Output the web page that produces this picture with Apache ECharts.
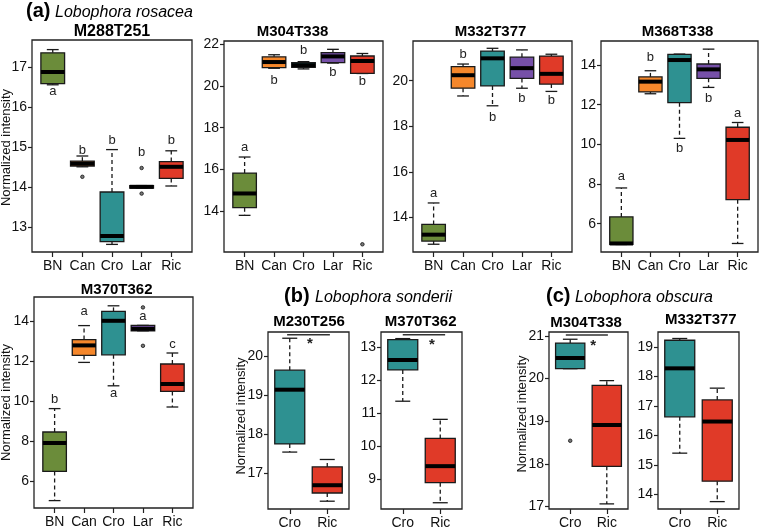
<!DOCTYPE html>
<html><head><meta charset="utf-8">
<script src="https://cdn.jsdelivr.net/npm/echarts@6/dist/echarts.min.js"></script>
<style>html,body{margin:0;padding:0;background:#fff}#c{width:760px;height:530px}</style>
</head><body><div id="c"></div>
<script>
// ---------- data ----------
const catsFive = ['BN', 'Can', 'Cro', 'Lar', 'Ric'];
const catsTwo = ['Cro', 'Ric'];
const groupColor = { BN: '#6b8c3a', Can: '#f5872b', Cro: '#2e9191', Lar: '#7650a8', Ric: '#e03a28' };

// box stats per group: [lower whisker, Q1, median, Q3, upper whisker]
const m288Stats = [[16.55, 16.58, 16.87, 17.35, 17.43], [14.50, 14.52, 14.58, 14.64, 14.77], [12.56, 12.63, 12.77, 13.87, 14.93], [13.97, 13.97, 14.00, 14.03, 14.03], [14.02, 14.21, 14.50, 14.63, 14.90]];
const m288Outliers = [[2, 14.25], [4, 14.47], [4, 13.83]];
const m288Letters = ['a', 'b', 'b', 'b', 'b'];
const m288LetterY = [16.38, 14.90, 15.17, 14.85, 15.15];
const m288Ticks = [13, 14, 15, 16, 17];

const m304Stats = [[13.79, 14.16, 14.84, 15.82, 16.59], [20.85, 20.88, 21.15, 21.40, 21.50], [20.82, 20.90, 21.00, 21.12, 21.17], [21.10, 21.12, 21.42, 21.60, 21.76], [20.60, 20.61, 21.20, 21.44, 21.56]];
const m304Outliers = [[5, 12.40]];
const m304Letters = ['a', 'b', 'b', 'b', 'b'];
const m304LetterY = [17.03, 20.28, 21.69, 20.63, 20.24];
const m304Ticks = [14, 16, 18, 20, 22];

const m332Stats = [[12.83, 12.97, 13.25, 13.70, 14.64], [19.33, 19.67, 20.24, 20.62, 20.73], [18.90, 19.77, 20.98, 21.30, 21.42], [19.67, 20.10, 20.55, 21.03, 21.35], [19.53, 19.85, 20.30, 21.08, 21.16]];
const m332Letters = ['a', 'b', 'b', 'b', 'b'];
const m332LetterY = [15.05, 21.13, 18.39, 19.23, 19.15];
const m332Ticks = [14, 16, 18, 20];

const m368Stats = [[4.95, 4.95, 5.00, 6.34, 7.80], [12.55, 12.64, 13.16, 13.40, 13.71], [10.30, 12.10, 14.25, 14.54, 14.55], [12.87, 13.33, 13.78, 14.05, 14.80], [5.00, 7.21, 10.22, 10.86, 11.10]];
const m368Letters = ['a', 'b', 'b', 'b', 'a'];
const m368LetterY = [8.36, 14.39, 9.79, 12.32, 11.56];
const m368Ticks = [6, 8, 10, 12, 14];

const m370Stats = [[5.04, 6.50, 7.92, 8.47, 9.64], [11.95, 12.30, 12.80, 13.09, 13.79], [10.78, 12.33, 14.03, 14.50, 14.78], [13.53, 13.53, 13.63, 13.80, 13.80], [9.72, 10.50, 10.87, 11.87, 12.42]];
const m370Outliers = [[4, 14.70], [4, 12.78]];
const m370Letters = ['b', 'a', 'a', 'a', 'c'];
const m370LetterY = [10.09, 14.50, 10.42, 14.25, 12.87];
const m370Ticks = [6, 8, 10, 12, 14];

const sonM230Stats = [[17.55, 17.76, 19.15, 19.65, 20.47], [16.29, 16.50, 16.70, 17.17, 17.36]];
const sonM230Sig = [0.93, 2.07, 20.56, 1.54, 20.40]; // bar x1, x2, y ; star x, y
const sonM230Ticks = [17, 18, 19, 20];

const sonM370Stats = [[11.37, 12.32, 12.62, 13.24, 13.27], [8.29, 8.90, 9.40, 10.24, 10.82]];
const sonM370Sig = [1.00, 2.13, 13.39, 1.78, 13.17];
const sonM370Ticks = [9, 10, 11, 12, 13];

const obsM304Stats = [[20.23, 20.23, 20.48, 20.83, 20.92], [17.06, 17.94, 18.91, 19.84, 19.95]];
const obsM304Outliers = [[1, 18.54]];
const obsM304Sig = [0.88, 2.03, 21.02, 1.63, 20.83];
const obsM304Ticks = [17, 18, 19, 20, 21];

const obsM332Stats = [[15.40, 16.63, 18.27, 19.22, 19.28], [13.76, 14.45, 16.47, 17.20, 17.60]];
const obsM332Ticks = [14, 15, 16, 17, 18, 19];

// ---------- layout ----------
const FONT = "'Liberation Sans', Arial, sans-serif";
const panels = [
  { title: 'M288T251', cats: catsFive, stats: m288Stats, out: m288Outliers, letters: m288Letters, letterY: m288LetterY, ticks: m288Ticks, yMin: 12.37, yMax: 17.67, box: [32, 40, 160, 212], t: [112, 31.7, 16] },
  { title: 'M304T338', cats: catsFive, stats: m304Stats, out: m304Outliers, letters: m304Letters, letterY: m304LetterY, ticks: m304Ticks, yMin: 12.03, yMax: 22.16, box: [224, 41, 159, 211], t: [292.5, 31.7, 15] },
  { title: 'M332T377', cats: catsFive, stats: m332Stats, letters: m332Letters, letterY: m332LetterY, ticks: m332Ticks, yMin: 12.49, yMax: 21.74, box: [413, 41, 159, 211], t: [490.5, 31.7, 15] },
  { title: 'M368T338', cats: catsFive, stats: m368Stats, letters: m368Letters, letterY: m368LetterY, ticks: m368Ticks, yMin: 4.57, yMax: 15.21, box: [601, 41, 157, 211], t: [677.5, 31.7, 15] },
  { title: 'M370T362', cats: catsFive, stats: m370Stats, out: m370Outliers, letters: m370Letters, letterY: m370LetterY, ticks: m370Ticks, yMin: 4.67, yMax: 15.22, box: [34, 297, 159, 211], t: [116.7, 290, 15] },
  { title: 'M230T256', cats: catsTwo, stats: sonM230Stats, sig: sonM230Sig, ticks: sonM230Ticks, yMin: 16.09, yMax: 20.63, box: [268, 332, 81, 179], t: [309, 321.7, 15] },
  { title: 'M370T362', cats: catsTwo, stats: sonM370Stats, sig: sonM370Sig, ticks: sonM370Ticks, yMin: 8.10, yMax: 13.47, box: [381, 332, 81, 179], t: [420.7, 321.7, 15] },
  { title: 'M304T338', cats: catsTwo, stats: obsM304Stats, out: obsM304Outliers, sig: obsM304Sig, ticks: obsM304Ticks, yMin: 16.94, yMax: 21.09, box: [549, 332, 79, 179], t: [586, 323.3, 15] },
  { title: 'M332T377', cats: catsTwo, stats: obsM332Stats, ticks: obsM332Ticks, yMin: 13.51, yMax: 19.50, box: [658, 332, 81, 180], t: [700.8, 320, 15] }
];

function makeBoxRenderer(cats) {
  return function (params, api) {
    const x = api.value(0);
    const pLo = api.coord([x, api.value(1)]);
    const pQ1 = api.coord([x, api.value(2)]);
    const pMd = api.coord([x, api.value(3)]);
    const pQ3 = api.coord([x, api.value(4)]);
    const pHi = api.coord([x, api.value(5)]);
    const bw = api.size([0.8, 0])[0];
    const cw = api.size([0.4, 0])[0];
    const cx = pMd[0];
    const stroke = '#1a1a1a';
    const ch = [];
    ch.push({ type: 'line', shape: { x1: cx, y1: pQ3[1], x2: cx, y2: pHi[1] }, style: { stroke, lineWidth: 1.3, lineDash: [4, 3] } });
    ch.push({ type: 'line', shape: { x1: cx, y1: pQ1[1], x2: cx, y2: pLo[1] }, style: { stroke, lineWidth: 1.3, lineDash: [4, 3] } });
    ch.push({ type: 'line', shape: { x1: cx - cw / 2, y1: pHi[1], x2: cx + cw / 2, y2: pHi[1] }, style: { stroke, lineWidth: 1.3 } });
    ch.push({ type: 'line', shape: { x1: cx - cw / 2, y1: pLo[1], x2: cx + cw / 2, y2: pLo[1] }, style: { stroke, lineWidth: 1.3 } });
    ch.push({ type: 'rect', shape: { x: cx - bw / 2, y: pQ3[1], width: bw, height: pQ1[1] - pQ3[1] }, style: { fill: groupColor[cats[Math.round(x) - 1]], stroke, lineWidth: 1.3 } });
    ch.push({ type: 'line', shape: { x1: cx - bw / 2, y1: pMd[1], x2: cx + bw / 2, y2: pMd[1] }, style: { stroke: '#000', lineWidth: 4 } });
    return { type: 'group', children: ch };
  };
}

function makeLetterRenderer(letters) {
  return function (params, api) {
    const p = api.coord([api.value(0), api.value(1)]);
    return { type: 'text', x: p[0], y: p[1], style: { text: letters[params.dataIndex], fill: '#222', font: '13px ' + FONT, textAlign: 'center', textVerticalAlign: 'middle', align: 'center', verticalAlign: 'middle' } };
  };
}

function sigRenderer(params, api) {
  const a = api.coord([api.value(0), api.value(2)]);
  const b = api.coord([api.value(1), api.value(2)]);
  const s = api.coord([api.value(3), api.value(4)]);
  return { type: 'group', children: [
    { type: 'line', shape: { x1: a[0], y1: a[1], x2: b[0], y2: b[1] }, style: { stroke: '#333', lineWidth: 1.5 } },
    { type: 'text', x: s[0], y: s[1] + 3, style: { text: '*', fill: '#222', font: 'bold 15px ' + FONT, textAlign: 'center', textVerticalAlign: 'middle', align: 'center', verticalAlign: 'middle' } }
  ] };
}

const grid = [], xAxis = [], yAxis = [], series = [], graphic = [];
panels.forEach((p, i) => {
  const n = p.cats.length;
  const xs = p.cats.map((c, k) => k + 1);
  const ext = 0.04 * n;
  grid.push({ left: p.box[0], top: p.box[1], width: p.box[2], height: p.box[3], show: true, borderColor: '#222', borderWidth: 1.3, backgroundColor: 'transparent', containLabel: false });
  xAxis.push({ gridIndex: i, type: 'value', min: 0.5 - ext, max: n + 0.5 + ext,
    axisLine: { show: false, onZero: false }, splitLine: { show: false },
    axisTick: { show: true, length: 5, customValues: xs, lineStyle: { color: '#222', width: 1.2 } },
    axisLabel: { customValues: xs, formatter: v => p.cats[Math.round(v) - 1], fontSize: 14, color: '#111', margin: 7, fontFamily: FONT } });
  yAxis.push({ gridIndex: i, type: 'value', min: p.yMin, max: p.yMax,
    axisLine: { show: false, onZero: false }, splitLine: { show: false },
    axisTick: { show: true, length: 4, customValues: p.ticks, lineStyle: { color: '#222', width: 1.2 } },
    axisLabel: { customValues: p.ticks, fontSize: 14, color: '#111', margin: 5, fontFamily: FONT } });
  series.push({ type: 'custom', xAxisIndex: i, yAxisIndex: i, renderItem: makeBoxRenderer(p.cats), silent: true, z: 3,
    data: p.stats.map((s, k) => [k + 1].concat(s)), encode: { x: 0, y: [1, 2, 3, 4, 5] } });
  if (p.out) series.push({ type: 'scatter', xAxisIndex: i, yAxisIndex: i, data: p.out, symbol: 'circle', symbolSize: 3.5, silent: true, z: 4,
    itemStyle: { color: '#555', borderColor: '#111', borderWidth: 1 } });
  if (p.letters) series.push({ type: 'custom', xAxisIndex: i, yAxisIndex: i, renderItem: makeLetterRenderer(p.letters), silent: true, z: 5,
    data: p.letterY.map((y, k) => [k + 1, y]), encode: { x: 0, y: 1 } });
  if (p.sig) series.push({ type: 'custom', xAxisIndex: i, yAxisIndex: i, renderItem: sigRenderer, silent: true, z: 5,
    data: [p.sig], encode: { x: [0, 1, 3], y: [2, 4] } });
  graphic.push({ type: 'text', x: p.t[0], y: p.t[1], style: { text: p.title, font: 'bold ' + p.t[2] + 'px ' + FONT, fill: '#000', textAlign: 'center', textVerticalAlign: 'middle', align: 'center', verticalAlign: 'middle' } });
});

function header(x1, x2, y, tag, name) {
  graphic.push({ type: 'text', x: x1, y: y, style: { text: tag, font: 'bold 20px ' + FONT, fill: '#000', textAlign: 'left', textVerticalAlign: 'middle', align: 'left', verticalAlign: 'middle' } });
  graphic.push({ type: 'text', x: x2, y: y + 1, style: { text: name, font: 'italic 16px ' + FONT, fill: '#000', textAlign: 'left', textVerticalAlign: 'middle', align: 'left', verticalAlign: 'middle' } });
}
header(26, 55, 11.7, '(a)', 'Lobophora rosacea');
header(284, 315, 296.7, '(b)', 'Lobophora sonderii');
header(546, 575, 296.7, '(c)', 'Lobophora obscura');

[[6, 147.5], [6, 402.5], [241, 416], [522.5, 414]].forEach(pos => {
  graphic.push({ type: 'text', x: pos[0], y: pos[1], rotation: Math.PI / 2, style: { text: 'Normalized intensity', font: '13px ' + FONT, fill: '#111', textAlign: 'center', textVerticalAlign: 'middle', align: 'center', verticalAlign: 'middle' } });
});

const chart = echarts.init(document.getElementById('c'), null, { renderer: 'canvas' });
chart.setOption({ animation: false, backgroundColor: '#fff', textStyle: { fontFamily: FONT }, grid, xAxis, yAxis, series, graphic });
</script>
</body></html>
